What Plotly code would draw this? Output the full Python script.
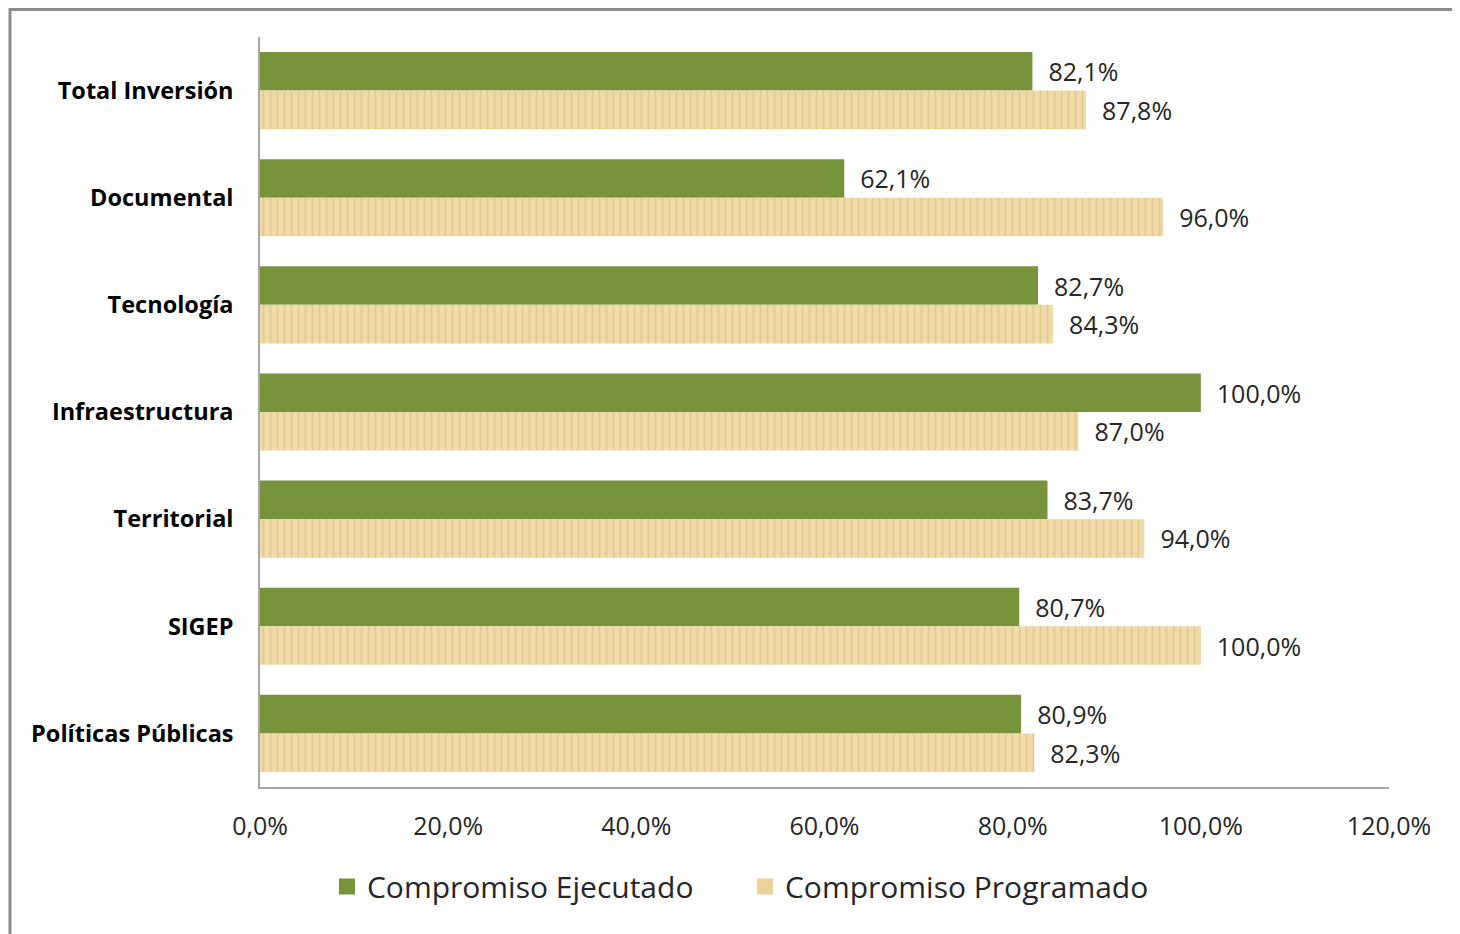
import plotly.graph_objects as go

categories = ["Total Inversión", "Documental", "Tecnología", "Infraestructura",
              "Territorial", "SIGEP", "Políticas Públicas"]
ejecutado = [82.1, 62.1, 82.7, 100.0, 83.7, 80.7, 80.9]
programado = [87.8, 96.0, 84.3, 87.0, 94.0, 100.0, 82.3]
series_names = ["Compromiso Ejecutado", "Compromiso Programado"]
tick_values = [0, 20, 40, 60, 80, 100, 120]
tick_labels = ["0,0%", "20,0%", "40,0%", "60,0%", "80,0%", "100,0%", "120,0%"]

GREEN = "#77933C"
TAN = "#EFD9A6"
FONT = "Open Sans"
LBL = dict(family=FONT, size=25, color="#262626")
NB = "\u00a0\u00a0"

fig = go.Figure()
fig.add_trace(go.Bar(
    y=categories, x=ejecutado, orientation="h", name=series_names[0],
    marker=dict(color=GREEN, line=dict(width=0)), showlegend=False,
    texttemplate=NB + "%{x:.1f}%", textposition="outside", cliponaxis=False,
    textfont=LBL,
))
fig.add_trace(go.Bar(
    y=categories, x=programado, orientation="h", name=series_names[1],
    marker=dict(color=TAN, line=dict(width=0),
                pattern=dict(shape="|", fgcolor="#E2C990", bgcolor="#F0DCAB",
                             size=7, solidity=0.25, fillmode="replace")),
    showlegend=False,
    texttemplate=NB + "%{x:.1f}%", textposition="outside", cliponaxis=False,
    textfont=LBL,
))
# legend entries with larger square swatches
for name, col in zip(series_names, [GREEN, "#EBD29A"]):
    fig.add_trace(go.Scatter(
        x=[None], y=[None], mode="markers", name=name,
        marker=dict(symbol="square", size=19, color=col),
    ))

fig.update_layout(
    width=1460, height=934,
    barmode="group", bargap=0.28, bargroupgap=0,
    separators=",.",
    paper_bgcolor="white", plot_bgcolor="white",
    margin=dict(l=252, r=79, t=29, b=155, autoexpand=False),
    font=dict(family=FONT, color="#262626"),
    showlegend=True,
    legend=dict(orientation="h", x=0.0593, xanchor="left", y=-0.098, yanchor="top",
                font=dict(family=FONT, size=30, color="#262626"),
                itemsizing="trace", traceorder="normal", itemwidth=30,
                entrywidth=373, entrywidthmode="pixels"),
    xaxis=dict(range=[0, 120], tickmode="array", tickvals=tick_values, ticktext=tick_labels,
               showgrid=False, zeroline=False, showline=True, linecolor="#A6A6A6",
               linewidth=1.5, ticks="", ticklabelstandoff=16,
               tickfont=dict(family=FONT, size=25, color="#262626")),
    yaxis=dict(categoryorder="array", categoryarray=categories, autorange="reversed",
               showgrid=False, zeroline=False, showline=True, linecolor="#A6A6A6",
               linewidth=1.5, ticks="", ticklabelstandoff=20,
               tickfont=dict(family=FONT, size=23.5, color="#000000", weight="bold")),
    shapes=[dict(type="rect", xref="paper", yref="paper",
                 x0=-250/1129, x1=1.2, y0=-0.4, y1=1 + 27.5/750,
                 line=dict(color="#8C8C8C", width=3), fillcolor="rgba(0,0,0,0)",
                 layer="below")],
)

fig.write_html("out.html")
